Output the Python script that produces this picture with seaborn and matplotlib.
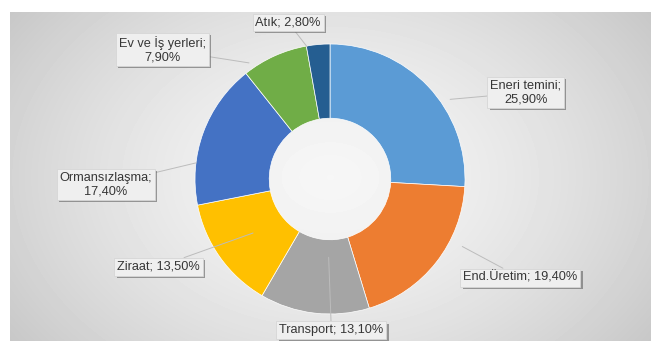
import numpy as np
import matplotlib
matplotlib.use("Agg")
import matplotlib.pyplot as plt
import matplotlib.patheffects as pe
import seaborn as sns

# data (clockwise from 12 o'clock)
categories = ["Eneri temini", "End.Üretim", "Transport", "Ziraat",
              "Ormansızlaşma", "Ev ve İş yerleri", "Atık"]
shares = [25.9, 19.4, 13.1, 13.5, 17.4, 7.9, 2.8]
label_texts = ["Eneri temini;\n25,90%", "End.Üretim; 19,40%", "Transport; 13,10%",
               "Ziraat; 13,50%", "Ormansızlaşma;\n17,40%", "Ev ve İş yerleri;\n7,90%",
               "Atık; 2,80%"]
colors = ["#5B9BD5", "#ED7D31", "#A5A5A5", "#FFC000", "#4472C4", "#70AD47", "#255E91"]

# label box centres and leader end points (in pie radius units), layout only
label_pos = [(1.45, 0.64), (1.41, -0.73), (0.01, -1.12), (-1.27, -0.65),
             (-1.66, -0.04), (-1.24, 0.96), (-0.31, 1.16)]
leader_end = [(0.89, 0.59), (0.98, -0.50), (-0.01, -0.58), (-0.57, -0.40),
              (-0.99, 0.12), (-0.60, 0.86), (-0.17, 0.98)]

sns.set_theme(style="white")
plt.rcParams["font.family"] = ["Liberation Sans", "DejaVu Sans"]

W, H = 651, 341
fig = plt.figure(figsize=(W / 100, H / 100), dpi=100, facecolor="white")

# gray radial gradient background, white strip on top and left
bg = fig.add_axes([10 / W, 0, 1 - 10 / W, 1 - 12 / H])
yy, xx = np.mgrid[0:329, 0:641]
cx, cy = 320, 165
d = np.sqrt(((xx - cx) / 360) ** 2 + ((yy - cy) / 260) ** 2)
shade = 0.965 - 0.16 * np.clip(d, 0, 1.3) ** 1.5
bg.imshow(shade, cmap="gray", vmin=0, vmax=1, aspect="auto", interpolation="bilinear")
bg.axis("off")

# donut axes: centre (330,179) px, radius 135 px
r_px = 135
ax = fig.add_axes([(330 - r_px) / W, (H - 179 - r_px) / H, 2 * r_px / W, 2 * r_px / H])

wedges, _ = ax.pie(shares, colors=colors, startangle=90, counterclock=False,
                   radius=1, wedgeprops=dict(width=0.55, edgecolor="white", linewidth=0.5),
                   frame=False)
ax.set_xlim(-1, 1)
ax.set_ylim(-1, 1)
ax.set_aspect("auto")
ax.axis("off")

for txt, (lx, ly), (px, py) in zip(label_texts, label_pos, leader_end):
    ann = ax.annotate(txt, xy=(px, py), xytext=(lx, ly), ha="center", va="center",
                      fontsize=9.2, color="#363636", linespacing=1.15, annotation_clip=False,
                      bbox=dict(boxstyle="square,pad=0.22", fc="#efefef", ec="#d6d6d6", lw=0.6),
                      arrowprops=dict(arrowstyle="-", color="#bcbcbc", lw=0.7,
                                      shrinkA=0, shrinkB=0))
    ann.get_bbox_patch().set_path_effects([
        pe.SimplePatchShadow(offset=(1.6, -1.6), shadow_rgbFace="#606060", alpha=0.6),
        pe.Normal()])

fig.savefig("out.png", dpi=100, facecolor="white")
